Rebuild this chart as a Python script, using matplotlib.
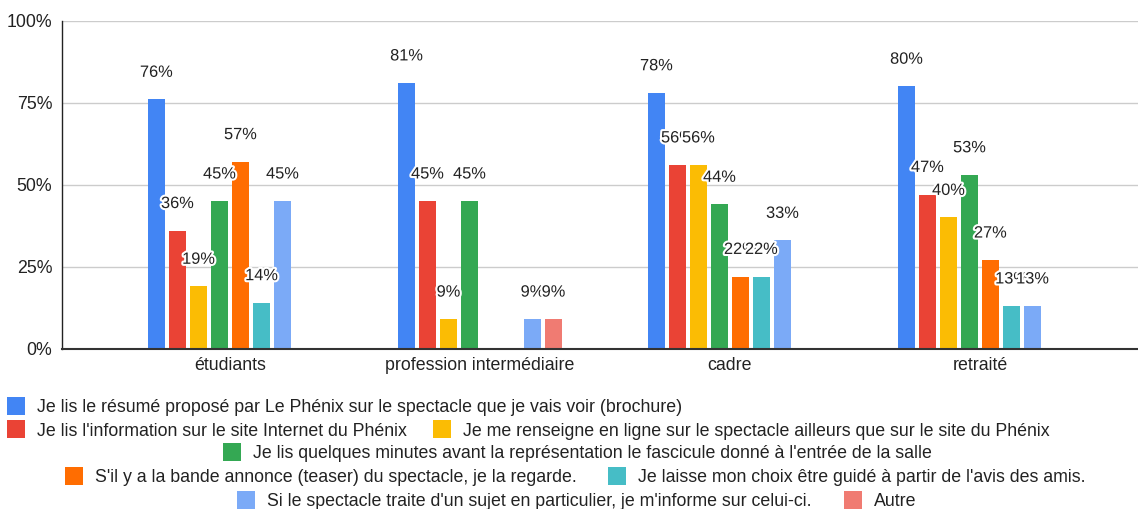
import numpy as np
import matplotlib
matplotlib.use("Agg")
import matplotlib.pyplot as plt
import matplotlib.patheffects as pe
from matplotlib.patches import FancyBboxPatch

plt.rcParams['font.family'] = ['Liberation Sans', 'DejaVu Sans']

# -- data --
categories = ["étudiants", "profession intermédiaire", "cadre", "retraité"]

series_names = [
    "Je lis le résumé proposé par Le Phénix sur le spectacle que je vais voir (brochure)",
    "Je lis l'information sur le site Internet du Phénix",
    "Je me renseigne en ligne sur le spectacle ailleurs que sur le site du Phénix",
    "Je lis quelques minutes avant la représentation le fascicule donné à l'entrée de la salle",
    "S'il y a la bande annonce (teaser) du spectacle, je la regarde.",
    "Je laisse mon choix être guidé à partir de l'avis des amis.",
    "Si le spectacle traite d'un sujet en particulier, je m'informe sur celui-ci.",
    "Autre",
]

resume = [76, 81, 78, 80]
site_internet = [36, 45, 56, 47]
en_ligne = [19, 9, 56, 40]
fascicule = [45, 45, 44, 53]
bande_annonce = [57, 0, 22, 27]
amis = [14, 0, 22, 13]
sujet = [45, 9, 33, 13]
autre = [0, 9, 0, 0]

series_values = [resume, site_internet, en_ligne, fascicule,
                 bande_annonce, amis, sujet, autre]

colors = ["#4285F4", "#EA4335", "#FBBC04", "#34A853",
          "#FF6D01", "#46BDC6", "#7BAAF7", "#F07B72"]

y_ticks = [0, 25, 50, 75, 100]

# -- figure --
W, H = 1138, 509
fig = plt.figure(figsize=(W / 100, H / 100), dpi=100)

def fx(px):
    return px / W

def fy(py):
    return 1 - py / H

ax = fig.add_axes([fx(62), fy(348.7), fx(1138) - fx(62), fy(20.7) - fy(348.7)])

slot = 0.084
bar_w = 0.068
x = np.arange(len(categories))
n = len(series_values)

for i, (vals, col) in enumerate(zip(series_values, colors)):
    pos = x + (i - (n - 1) / 2) * slot
    ax.bar(pos, vals, width=bar_w, color=col, zorder=3)
    for p, v in zip(pos, vals):
        if v == 0:
            continue
        t = ax.annotate(f"{v}%", (p, v), xytext=(0, 19.5), textcoords="offset points",
                        ha="center", va="center", fontsize=11.8, color="#222222", zorder=5)
        t.set_path_effects([pe.withStroke(linewidth=3, foreground="white")])

ax.set_xlim(-0.672, 3.632)
ax.set_ylim(0, 100)
ax.set_yticks(y_ticks)
ax.set_yticklabels([f"{t}%" for t in y_ticks])
ax.set_xticks(x)
ax.set_xticklabels(categories)
ax.tick_params(axis="both", length=0, labelsize=12.8, colors="#222222")
ax.tick_params(axis="y", pad=7)
ax.tick_params(axis="x", pad=6)

ax.grid(axis="y", color="#cccccc", linewidth=1, zorder=0)
for s in ["top", "right"]:
    ax.spines[s].set_visible(False)
ax.spines["left"].set_color("#222222")
ax.spines["left"].set_linewidth(1)
ax.spines["bottom"].set_color("#333333")
ax.spines["bottom"].set_linewidth(1.5)
ax.spines["bottom"].set_zorder(4)

# -- legend, laid out row by row like the original --
legend_rows = [
    (405.5, [(0, 7)]),
    (429, [(1, 7), (2, 433)]),
    (452, [(3, 223)]),
    (476, [(4, 65), (5, 608)]),
    (500, [(6, 237), (7, 844)]),
]
sq = 18
for yc, items in legend_rows:
    for idx, x0 in items:
        fig.patches.append(FancyBboxPatch((fx(x0), fy(yc + sq / 2)), fx(sq), fy(yc - sq / 2) - fy(yc + sq / 2),
                                          boxstyle="square,pad=0", transform=fig.transFigure,
                                          facecolor=colors[idx], edgecolor="none"))
        fig.text(fx(x0 + 30), fy(yc), series_names[idx], ha="left", va="center_baseline",
                 fontsize=12.8, color="#222222")

fig.savefig("out.png", dpi=100)
